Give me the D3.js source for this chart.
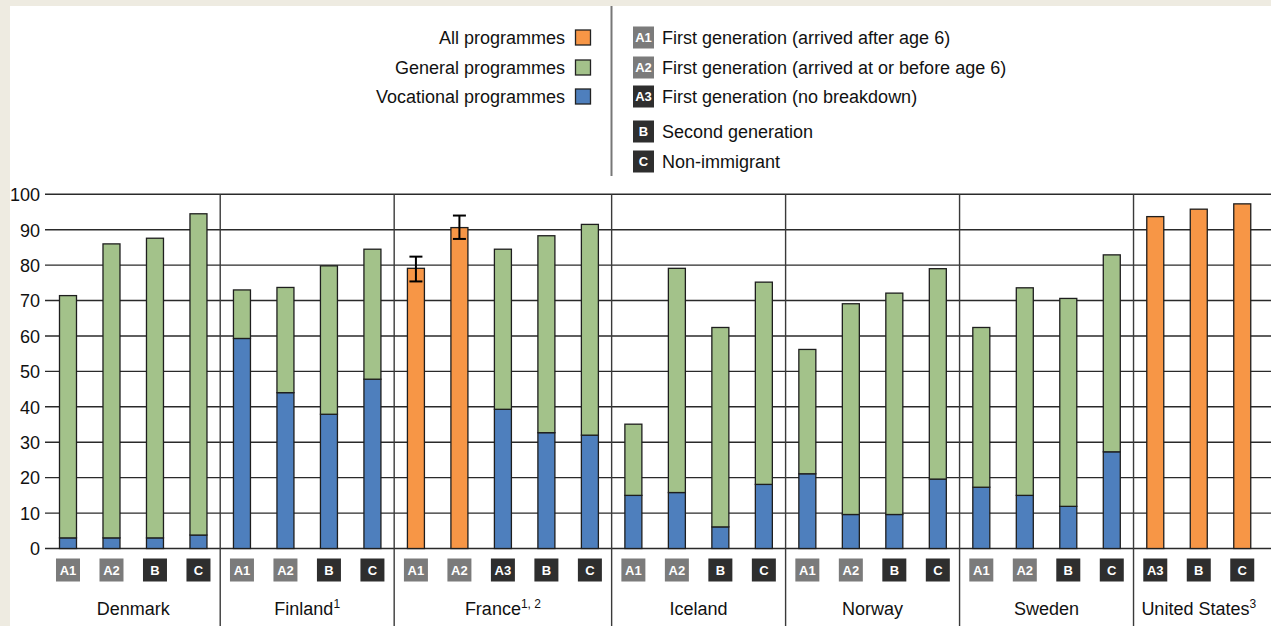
<!DOCTYPE html>
<html><head><meta charset="utf-8">
<script src="https://cdn.jsdelivr.net/npm/d3@7"></script>
<style>
html,body{margin:0;padding:0;background:#eeebe1;}
svg{display:block;font-family:"Liberation Sans",Arial,sans-serif;}
</style></head>
<body>
<svg id="chart" width="1271" height="626"></svg>
<script>
// ---- data ----
const slotCountry = ["Denmark","Denmark","Denmark","Denmark",
  "Finland","Finland","Finland","Finland",
  "France","France","France","France","France",
  "Iceland","Iceland","Iceland","Iceland",
  "Norway","Norway","Norway","Norway",
  "Sweden","Sweden","Sweden","Sweden",
  "United States","United States","United States"];
const slotCategory = ["A1","A2","B","C", "A1","A2","B","C", "A1","A2","A3","B","C",
  "A1","A2","B","C", "A1","A2","B","C", "A1","A2","B","C", "A3","B","C"];
const vocational = [3,3,3,3.8, 59.3,44,37.9,47.8, null,null,39.3,32.7,32,
  15,15.8,6.1,18.1, 21.1,9.6,9.6,19.6, 17.3,15,11.9,27.3, null,null,null];
const general = [68.4,83,84.6,90.7, 13.7,29.7,41.9,36.7, null,null,45.2,55.6,59.5,
  20.1,63.3,56.3,57.1, 35.1,59.5,62.5,59.4, 45.1,58.6,58.7,55.6, null,null,null];
const allProgrammes = [null,null,null,null, null,null,null,null, 79.1,90.6,null,null,null,
  null,null,null,null, null,null,null,null, null,null,null,null, 93.7,95.8,97.3];
const errLow  = [null,null,null,null, null,null,null,null, 75.4,87.4,null,null,null,
  null,null,null,null, null,null,null,null, null,null,null,null, null,null,null];
const errHigh = [null,null,null,null, null,null,null,null, 82.4,94.0,null,null,null,
  null,null,null,null, null,null,null,null, null,null,null,null, null,null,null];
const countries = ["Denmark","Finland","France","Iceland","Norway","Sweden","United States"];
const countryNotes = ["","1","1, 2","","","","3"];
const yTicks = [0,10,20,30,40,50,60,70,80,90,100];
const seriesNames = ["All programmes","General programmes","Vocational programmes"];
const categoryCodes = ["A1","A2","A3","B","C"];
const categoryNames = ["First generation (arrived after age 6)","First generation (arrived at or before age 6)",
  "First generation (no breakdown)","Second generation","Non-immigrant"];

// ---- styles ----
const colors = {"All programmes":"#f79646","General programmes":"#a3c28a","Vocational programmes":"#4e7fbd"};
const badgeColor = c => (c==="A1"||c==="A2") ? "#7b7b7b" : "#2e2e2e";

const W = 1271, H = 626;
const svg = d3.select("#chart");
// white panel
svg.append("rect").attr("x",10).attr("y",6).attr("width",W-10).attr("height",H-6).attr("fill","#fff");

const slots = d3.range(slotCountry.length);
const x = d3.scaleBand().domain(slots).range([46.25, 1264]).padding(0);
const y = d3.scaleLinear().domain([0,100]).range([548.5, 194.3]);
const barW = 17;
const cx = i => x(i) + x.bandwidth()/2;

// gridlines
const g = svg.append("g");
g.selectAll("line.grid").data(yTicks).join("line")
  .attr("x1",45).attr("x2",W).attr("y1",d=>y(d)).attr("y2",d=>y(d))
  .attr("stroke","#2a2a2a").attr("stroke-width",1.4);
// y axis labels
const yAxis = d3.axisLeft(y).tickValues(yTicks).tickSize(0).tickPadding(0);
const ya = svg.append("g").attr("transform","translate(40,0)").call(yAxis);
ya.select(".domain").remove();
ya.selectAll("text").attr("font-size",18).attr("fill","#111")
  .attr("font-family","'Liberation Sans',Arial,sans-serif").attr("dy","0.35em");

// group separators (midpoints between groups)
const groupStarts = countries.map(c => slotCountry.indexOf(c));
const groupEnds = countries.map(c => slotCountry.lastIndexOf(c));
const seps = groupStarts.slice(1).map((s,k) => (cx(s) + cx(groupEnds[k]))/2);
g.selectAll("line.sep").data(seps).join("line")
  .attr("x1",d=>d).attr("x2",d=>d).attr("y1",y(100)).attr("y2",H)
  .attr("stroke","#3a3a3a").attr("stroke-width",1.4);

// stacked bars
const rows = slots.map(i => ({i, voc: vocational[i]||0, gen: general[i]||0, all: allProgrammes[i]||0}));
const stack = d3.stack().keys(["voc","gen","all"]);
const stacked = stack(rows);
const keyName = {voc:"Vocational programmes", gen:"General programmes", all:"All programmes"};
stacked.forEach(layer => {
  svg.append("g").selectAll("rect")
    .data(layer.filter(d => d[1] > d[0]))
    .join("rect")
    .attr("x", d => cx(d.data.i) - barW/2)
    .attr("width", barW)
    .attr("y", d => y(d[1]))
    .attr("height", d => y(d[0]) - y(d[1]))
    .attr("fill", colors[keyName[layer.key]])
    .attr("stroke","#1e1e1e").attr("stroke-width",1.3);
});

// error bars
const eb = svg.append("g").attr("stroke","#000").attr("stroke-width",2);
slots.filter(i => errLow[i]!=null).forEach(i => {
  eb.append("line").attr("x1",cx(i)).attr("x2",cx(i)).attr("y1",y(errLow[i])).attr("y2",y(errHigh[i]));
  eb.append("line").attr("x1",cx(i)-6.5).attr("x2",cx(i)+6.5).attr("y1",y(errLow[i])).attr("y2",y(errLow[i]));
  eb.append("line").attr("x1",cx(i)-6.5).attr("x2",cx(i)+6.5).attr("y1",y(errHigh[i])).attr("y2",y(errHigh[i]));
});

// category badges
const badges = svg.append("g").selectAll("g").data(slots).join("g")
  .attr("transform", i => `translate(${cx(i)},570)`);
badges.append("rect").attr("x",-12).attr("y",-11.5).attr("width",24).attr("height",23)
  .attr("fill", i => badgeColor(slotCategory[i]));
badges.append("text").text(i => slotCategory[i]).attr("text-anchor","middle").attr("dy","0.36em")
  .attr("fill","#fff").attr("font-size",13).attr("font-weight","bold");

// country labels
countries.forEach((c,k) => {
  const mid = (cx(groupStarts[k]) + cx(groupEnds[k]))/2;
  const t = svg.append("text").attr("x",mid).attr("y",615).attr("text-anchor","middle")
    .attr("font-size",18).attr("fill","#111");
  t.append("tspan").text(c);
  if (countryNotes[k]) t.append("tspan").text(countryNotes[k]).attr("font-size",12).attr("dy",-7);
});

// legend: series
const lg = svg.append("g");
const legY = [37.5, 67.5, 96.5];
seriesNames.forEach((s,k) => {
  lg.append("text").attr("x",565).attr("y",legY[k]).attr("dy","0.35em").attr("text-anchor","end")
    .attr("font-size",18).attr("fill","#111").text(s);
  lg.append("rect").attr("x",575.5).attr("y",legY[k]-7.5).attr("width",15).attr("height",15)
    .attr("fill",colors[s]).attr("stroke","#222").attr("stroke-width",1.3);
});
lg.append("line").attr("x1",611.5).attr("x2",611.5).attr("y1",6).attr("y2",176)
  .attr("stroke","#777").attr("stroke-width",2);
const catY = [37.5, 67.5, 96.5, 131.5, 161.5];
categoryCodes.forEach((c,k) => {
  lg.append("rect").attr("x",633).attr("y",catY[k]-11).attr("width",21).attr("height",22)
    .attr("fill",badgeColor(c));
  lg.append("text").attr("x",643.5).attr("y",catY[k]).attr("dy","0.36em").attr("text-anchor","middle")
    .attr("fill","#fff").attr("font-size",13).attr("font-weight","bold").text(c);
  lg.append("text").attr("x",662).attr("y",catY[k]).attr("dy","0.35em")
    .attr("font-size",18).attr("fill","#111").text(categoryNames[k]);
});
</script>
</body></html>
